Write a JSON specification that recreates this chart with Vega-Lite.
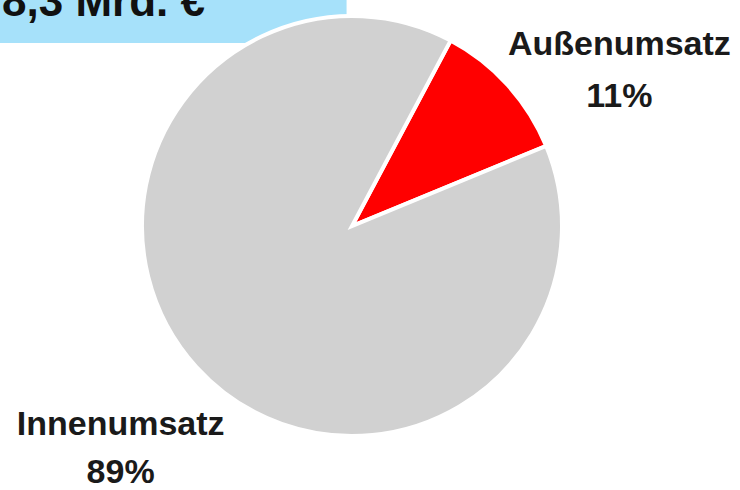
{
  "$schema": "https://vega.github.io/schema/vega-lite/v6.json",
  "width": 704,
  "height": 452,
  "autosize": {"type": "none"},
  "padding": {"left": 0, "top": 0, "right": 36, "bottom": 38},
  "background": "white",
  "config": {"view": {"stroke": null}, "font": "Liberation Sans"},
  "datasets": {
    "anteile": [
      {"kategorie": "Außenumsatz", "anteil": 11, "label": "Außenumsatz\n11%"},
      {"kategorie": "Innenumsatz", "anteil": 89, "label": "Innenumsatz\n89%"}
    ],
    "gesamt": [
      {"titel": "8,3 Mrd. €", "gesamt": 8.3}
    ]
  },
  "layer": [
    {
      "data": {"name": "gesamt"},
      "mark": {"type": "bar", "color": "#a6e1fa", "cornerRadiusBottomRight": 20},
      "encoding": {
        "x": {"field": "gesamt", "type": "quantitative", "axis": null, "scale": {"domain": [0, 8.3], "range": [0, 376]}},
        "y": {"field": "titel", "type": "nominal", "axis": null, "scale": {"range": [0, 43], "paddingInner": 0, "paddingOuter": 0}}
      }
    },
    {
      "data": {"name": "gesamt"},
      "mark": {"type": "text", "align": "left", "baseline": "alphabetic", "dx": 2, "dy": -5.5, "fontSize": 44, "fontWeight": "bold", "color": "#111111"},
      "encoding": {
        "x": {"datum": 0, "type": "quantitative"},
        "y": {"field": "titel", "type": "nominal"},
        "text": {"field": "titel"}
      }
    },
    {
      "data": {"name": "anteile"},
      "mark": {"type": "arc", "radius": 210, "stroke": "white", "strokeWidth": 4},
      "encoding": {
        "theta": {"field": "anteil", "type": "quantitative", "stack": true, "scale": {"range": [0.4887, 6.7719]}},
        "order": {"field": "anteil", "sort": "ascending"},
        "color": {"field": "kategorie", "type": "nominal", "legend": null, "scale": {"domain": ["Außenumsatz", "Innenumsatz"], "range": ["#ff0000", "#d1d1d1"]}}
      }
    },
    {
      "data": {"name": "anteile"},
      "mark": {"type": "text", "radius": 315, "dx": 34, "dy": 31, "align": "center", "baseline": "middle", "lineBreak": "\n", "lineHeight": 52, "fontSize": 34, "fontWeight": "bold", "color": "#1a1a1a"},
      "encoding": {
        "theta": {"field": "anteil", "type": "quantitative", "stack": true},
        "order": {"field": "anteil", "sort": "ascending"},
        "text": {"condition": {"test": "datum.kategorie === 'Außenumsatz'", "field": "label"}, "value": ""}
      }
    },
    {
      "data": {"name": "anteile"},
      "mark": {"type": "text", "radius": 315, "dx": 2, "dy": -13, "align": "center", "baseline": "middle", "lineBreak": "\n", "lineHeight": 48, "fontSize": 34, "fontWeight": "bold", "color": "#1a1a1a"},
      "encoding": {
        "theta": {"field": "anteil", "type": "quantitative", "stack": true},
        "order": {"field": "anteil", "sort": "ascending"},
        "text": {"condition": {"test": "datum.kategorie === 'Innenumsatz'", "field": "label"}, "value": ""}
      }
    }
  ]
}
